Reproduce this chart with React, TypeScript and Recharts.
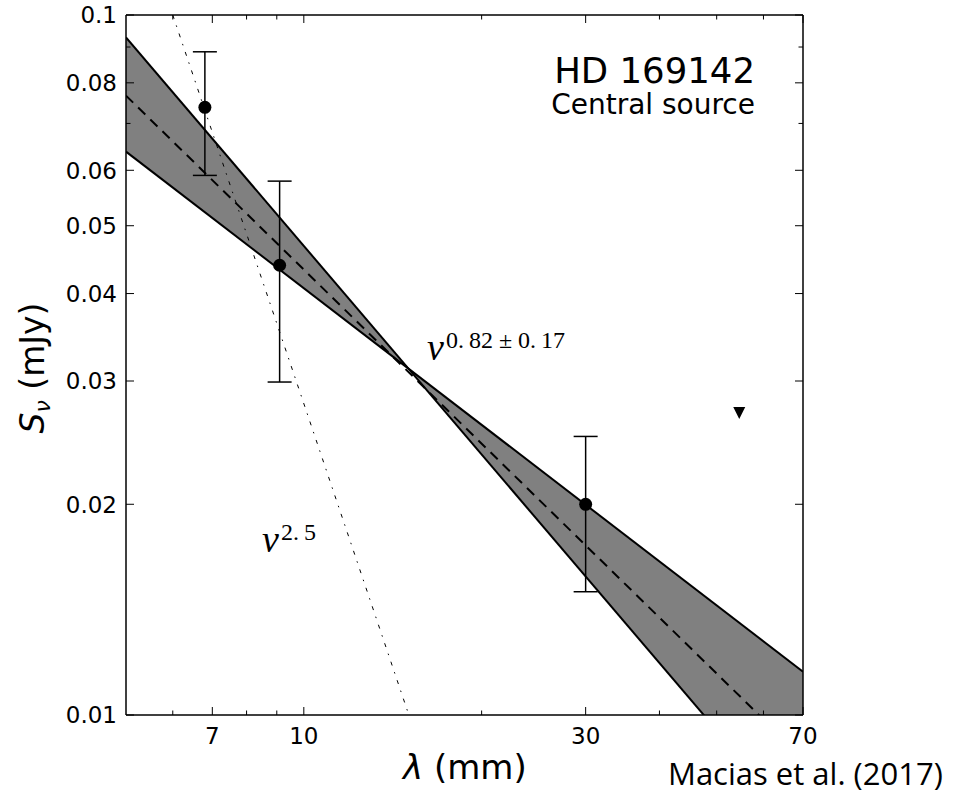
import React from "react";
import { ComposedChart, XAxis, YAxis, Area, Line, Scatter, ErrorBar } from "recharts";

const X_TICKS = [6, 7, 8, 9, 10, 20, 30, 40, 50, 60, 70];
const X_LABELS = [7, 10, 30, 70];
const Y_TICKS = [0.01, 0.02, 0.03, 0.04, 0.05, 0.06, 0.07, 0.08, 0.09, 0.1];
const Y_LABELS = [0.01, 0.02, 0.03, 0.04, 0.05, 0.06, 0.08, 0.1];

// measured fluxes (mJy), symmetric 1-sigma errors
const detections = [
  { x: 6.8, y: 0.0738, err: 0.0148 },
  { x: 9.1, y: 0.0439, err: 0.014 },
  { x: 30, y: 0.02, err: 0.005 },
];
const upperLimits = [{ x: 54.6, y: 0.027 }];

// spread between the steep and shallow fits, they cross near 15 mm
const band = [
  { x: 5, band: [0.0638, 0.0929] },
  { x: 15, band: [0.0313, 0.0313] },
  { x: 70, band: [0.00682, 0.01153] },
];
const steepFit = [
  { x: 5, y: 0.0929 },
  { x: 70, y: 0.00682 },
];
const shallowFit = [
  { x: 5, y: 0.0638 },
  { x: 70, y: 0.01153 },
];
const bestFit = [
  { x: 5, y: 0.0767 },
  { x: 70, y: 0.00868 },
];
const dustSlope = [
  { x: 6, y: 0.1 },
  { x: 15, y: 0.0101 },
];

const FONT = "DejaVu Sans";
const tickLen = (major: boolean) => (major ? 8 : 4.5);

const LeftTick = (props: any) => {
  const { x, y, payload } = props;
  const major = Y_LABELS.includes(payload.value);
  return (
    <g>
      <line x1={x} x2={x + tickLen(major)} y1={y} y2={y} stroke="#000" strokeWidth={1} />
      {major && (
        <text x={x - 9} y={y} dy="0.36em" textAnchor="end" fontSize={23} fontFamily={FONT} fill="#000">
          {String(payload.value)}
        </text>
      )}
    </g>
  );
};

const RightTick = (props: any) => {
  const { x, y, payload } = props;
  const major = Y_LABELS.includes(payload.value);
  return <line x1={x} x2={x - tickLen(major)} y1={y} y2={y} stroke="#000" strokeWidth={1} />;
};

const BottomTick = (props: any) => {
  const { x, y, payload } = props;
  const major = X_LABELS.includes(payload.value);
  return (
    <g>
      <line x1={x} x2={x} y1={y} y2={y - tickLen(major)} stroke="#000" strokeWidth={1} />
      {major && (
        <text x={x} y={y + 29} textAnchor="middle" fontSize={23} fontFamily={FONT} fill="#000">
          {String(payload.value)}
        </text>
      )}
    </g>
  );
};

const TopTick = (props: any) => {
  const { x, y, payload } = props;
  const major = X_LABELS.includes(payload.value);
  return <line x1={x} x2={x} y1={y} y2={y + tickLen(major)} stroke="#000" strokeWidth={1} />;
};

const Dot = (p: any) => <circle cx={p.cx} cy={p.cy} r={6.5} fill="#000" />;
const DownTriangle = (p: any) => (
  <polygon
    points={`${p.cx - 6},${p.cy - 6} ${p.cx + 6},${p.cy - 6} ${p.cx},${p.cy + 6}`}
    fill="#000"
  />
);

const axisLine = { stroke: "#000", strokeWidth: 1.5 };
const logX = { dataKey: "x", type: "number" as const, scale: "log" as const, domain: [5, 70], allowDataOverflow: true, ticks: X_TICKS, interval: 0, height: 1, tickSize: 0, tickMargin: 0, tickLine: false, axisLine };
const logY = { dataKey: "y", type: "number" as const, scale: "log" as const, domain: [0.01, 0.1], allowDataOverflow: true, ticks: Y_TICKS, interval: 0, width: 1, tickSize: 0, tickMargin: 0, tickLine: false, axisLine };

export default function App() {
  return (
    <div style={{ position: "absolute", left: 0, top: 0, width: 959, height: 790, background: "#fff" }}>
      <ComposedChart
        width={959}
        height={790}
        data={band}
        margin={{ top: 14, right: 155, bottom: 74, left: 125 }}
      >
        <XAxis xAxisId={0} {...logX} tick={(p: any) => <BottomTick {...p} />} />
        <XAxis xAxisId="top" orientation="top" {...logX} tick={(p: any) => <TopTick {...p} />} />
        <YAxis yAxisId={0} {...logY} tick={(p: any) => <LeftTick {...p} />} />
        <YAxis yAxisId="right" orientation="right" {...logY} tick={(p: any) => <RightTick {...p} />} />
        <Area
          dataKey="band"
          type="linear"
          fill="#808080"
          fillOpacity={1}
          stroke="none"
          dot={false}
          activeDot={false}
          isAnimationActive={false}
        />
        <Line data={steepFit} dataKey="y" type="linear" stroke="#000" strokeWidth={2} dot={false} activeDot={false} isAnimationActive={false} />
        <Line data={shallowFit} dataKey="y" type="linear" stroke="#000" strokeWidth={2} dot={false} activeDot={false} isAnimationActive={false} />
        <Line data={bestFit} dataKey="y" type="linear" stroke="#000" strokeWidth={2} strokeDasharray="10 7" dot={false} activeDot={false} isAnimationActive={false} />
        <Line data={dustSlope} dataKey="y" type="linear" stroke="#000" strokeWidth={1} strokeDasharray="4 7 1.5 7" dot={false} activeDot={false} isAnimationActive={false} />
        <Scatter data={detections} dataKey="y" shape={Dot} isAnimationActive={false}>
          <ErrorBar dataKey="err" direction="y" width={12} stroke="#000" strokeWidth={1.5} />
        </Scatter>
        <Scatter data={upperLimits} dataKey="y" shape={DownTriangle} isAnimationActive={false} />
      </ComposedChart>

      <svg
        width={959}
        height={790}
        style={{ position: "absolute", left: 0, top: 0, pointerEvents: "none" }}
      >
        <text x={755} y={83} textAnchor="end" fontSize={35.5} fontFamily={FONT} fill="#000">
          HD 169142
        </text>
        <text x={755} y={114} textAnchor="end" fontSize={28} fontFamily={FONT} fill="#000">
          Central source
        </text>

        <text x={427} y={360} fontFamily="Liberation Serif" fill="#000">
          <tspan fontStyle="italic" fontSize={38}>ν</tspan>
          <tspan dx={2} dy={-12} fontSize={24}>0.</tspan>
          <tspan dx={5} fontSize={24}>82 ± 0.</tspan>
          <tspan dx={5} fontSize={24}>17</tspan>
        </text>
        <text x={262} y={552} fontFamily="Liberation Serif" fill="#000">
          <tspan fontStyle="italic" fontSize={38}>ν</tspan>
          <tspan dx={2} dy={-12} fontSize={24}>2.</tspan>
          <tspan dx={5} fontSize={24}>5</tspan>
        </text>

        <text x={44} y={368} transform="rotate(-90, 44, 368)" textAnchor="middle" fontFamily={FONT} fontSize={33} fill="#000">
          <tspan fontStyle="italic">S</tspan>
          <tspan fontStyle="italic" fontSize={22} dy={6}>ν</tspan>
          <tspan dy={-6}> (mJy)</tspan>
        </text>
        <text x={403} y={779} fontFamily={FONT} fontSize={34} fill="#000">
          <tspan fontStyle="italic">λ</tspan> (mm)
        </text>
        <text x={668} y={785} fontFamily="Open Sans" fontSize={31} fill="#000">
          Macias et al. (2017)
        </text>
      </svg>
    </div>
  );
}
